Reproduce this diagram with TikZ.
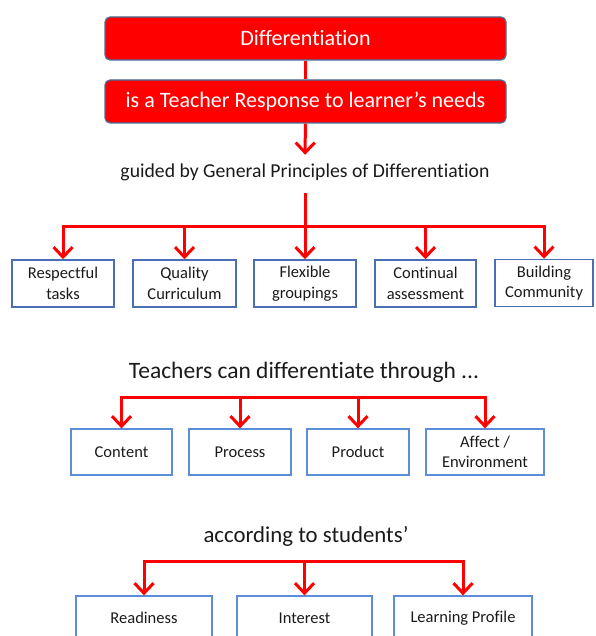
\documentclass[tikz,border=0pt]{standalone}
\usepackage{fontspec}
\setmainfont[Ligatures=NoCommon]{Carlito}
\usetikzlibrary{arrows.meta, positioning}

\definecolor{topedge}{HTML}{41719C}
\definecolor{edgeone}{HTML}{4A6FB5}
\definecolor{edgetwo}{HTML}{5B8DD8}
\definecolor{inktext}{HTML}{1A1A1A}

\begin{document}
\begin{tikzpicture}[x=1pt, y=-1pt,
    redbox/.style={draw=topedge, line width=1.2pt, fill=red, rounded corners=5pt,
        text=white, font=\fontsize{22}{26}\selectfont,
        minimum width=401pt, minimum height=43pt, inner sep=0pt},
    headtext/.style={text=inktext, anchor=base},
    principle/.style={draw=edgeone, line width=1.5pt, text=inktext, align=center,
        font=\fontsize{16.5}{20.5}\selectfont,
        minimum width=102pt, minimum height=47pt, inner sep=0pt},
    waybox/.style={draw=edgetwo, line width=1.3pt, text=inktext, align=center,
        font=\fontsize{16.5}{20.5}\selectfont,
        minimum width=102pt, minimum height=46pt, inner sep=0pt},
    redline/.style={red, line width=3pt},
    redarrow/.style={redline, -{Straight Barb[length=10pt,width=19pt]}}]

    \useasboundingbox (0,0) rectangle (595,636);

    % Kopblokken
    \node[redbox] (diff) at (305.5,38.5) {Differentiation};
    \node[redbox] (need) at (305.5,101.5) {is a Teacher Response to learner’s needs};

    % Tussenteksten
    \node[headtext, font=\fontsize{19.7}{24}\selectfont] (guided) at (305,178)
        {guided by General Principles of Differentiation};
    \node[headtext, font=\fontsize{23.5}{28}\selectfont] (through) at (304,378)
        {Teachers can differentiate through ...};
    \node[headtext, font=\fontsize{22.8}{27}\selectfont] (accord) at (306,542)
        {according to students’};

    % Principes
    \node[principle] (resp) at (63,283.5) {Respectful\\tasks};
    \node[principle, minimum width=103pt] (qual) at (184.5,283.5) {Quality\\Curriculum};
    \node[principle] (flex) at (305,283.5) {Flexible\\groupings};
    \node[principle, minimum width=101pt] (cont) at (425.5,283.5) {Continual\\assessment};
    \node[principle, minimum width=98pt] (build) at (544,283) {Building\\Community};

    % Waardoor
    \node[waybox, minimum width=101pt] (content) at (121.5,452) {Content};
    \node[waybox] (process) at (240,452) {Process};
    \node[waybox] (product) at (358,452) {Product};
    \node[waybox, minimum width=118pt] (affect) at (485,452) {Affect /\\Environment};

    % Leerlingen
    \node[waybox, minimum width=136pt, minimum height=44pt] (ready) at (144,618) {Readiness};
    \node[waybox, minimum width=135pt, minimum height=44pt] (inter) at (304.5,618) {Interest};
    \node[waybox, minimum width=138pt, minimum height=44pt] (learn) at (463,618) {Learning Profile};

    % Verbindingen
    \coordinate (splitone) at (305,226);
    \coordinate (splittwo) at (305,397);
    \coordinate (splitthree) at (305,561);

    \draw[redline] (diff) -- (need);
    \draw[redarrow, shorten >=6pt] (need) -- (guided);
    \draw[redline, shorten <=8pt] (guided) -- (splitone);
    \foreach \b in {resp, qual, flex, cont, build}
        \draw[redarrow] (splitone) -| (\b.north);
    \foreach \b in {content, process, product, affect}
        \draw[redarrow] (splittwo) -| (\b.north);
    \foreach \b in {ready, inter, learn}
        \draw[redarrow] (splitthree) -| (\b.north);

\end{tikzpicture}
\end{document}
